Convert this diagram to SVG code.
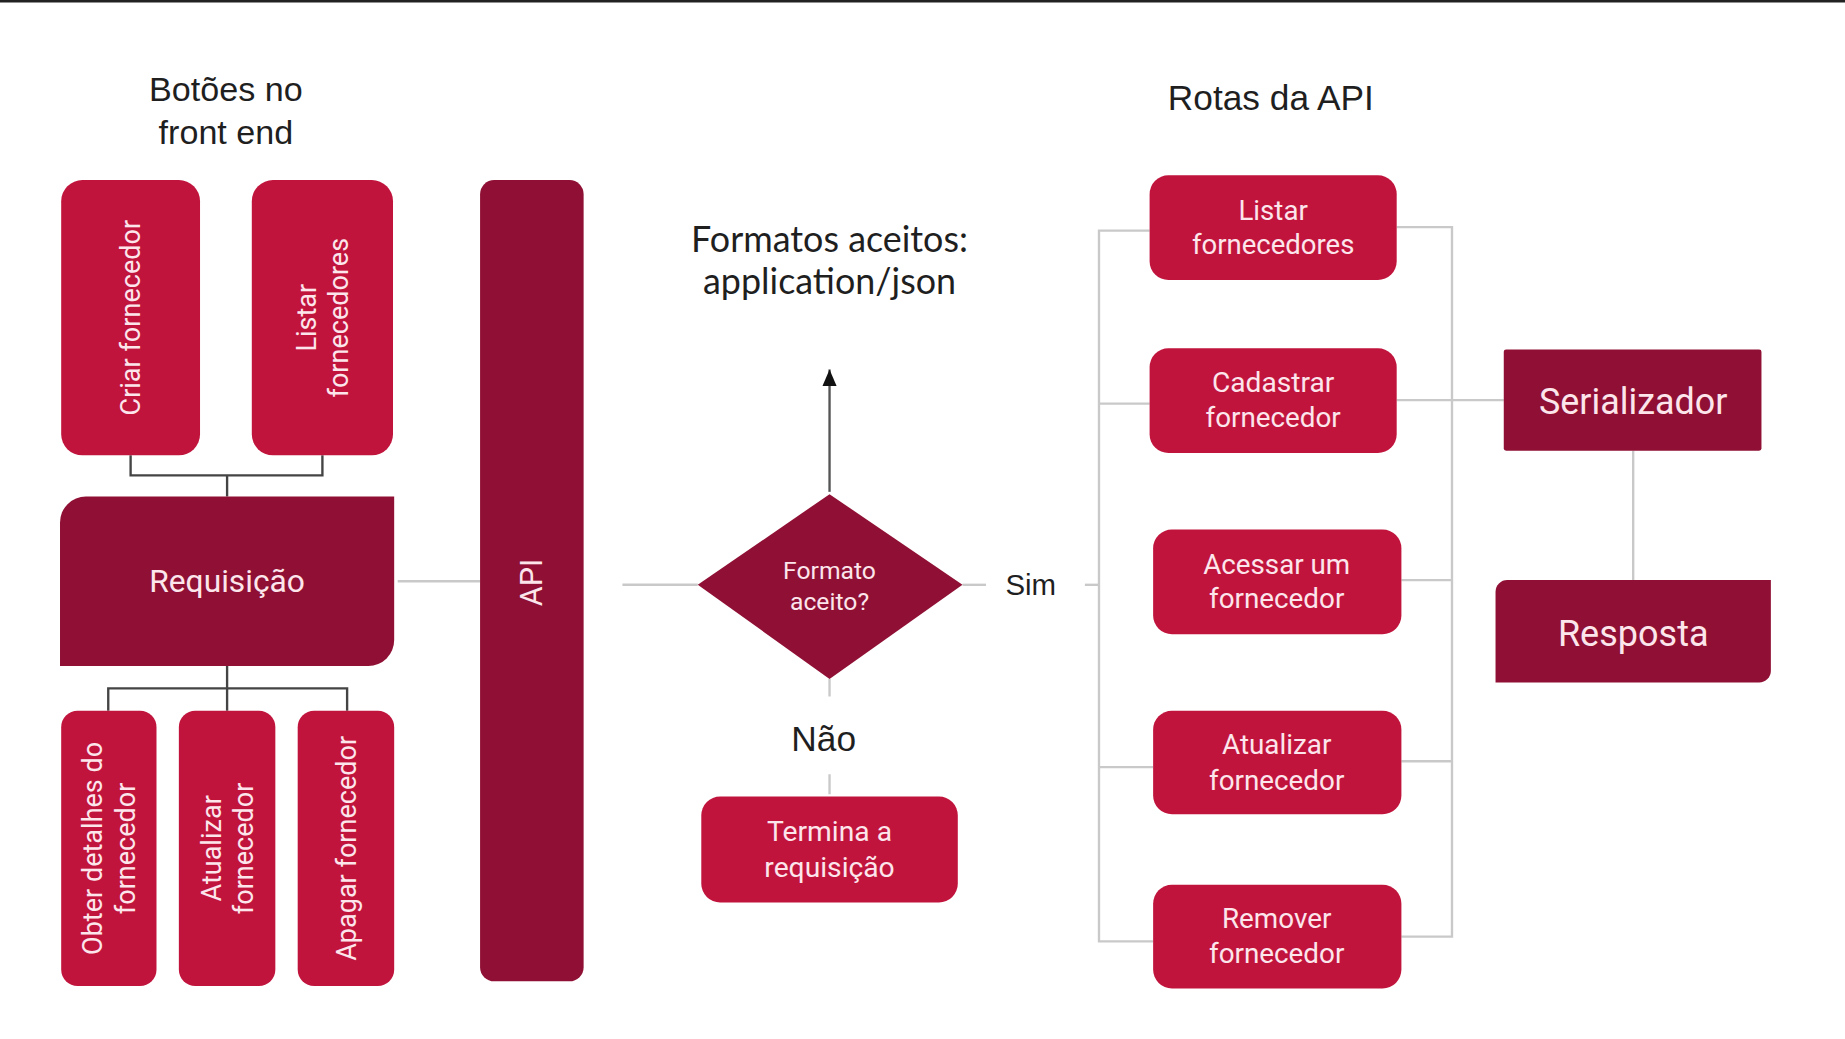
<svg xmlns="http://www.w3.org/2000/svg" width="1845" height="1039" viewBox="0 0 1845 1039">
<defs>
<style>
.light{fill:#C1143D}
.dark{fill:#8F1034}
.bt{fill:#FCE6EC;font-family:Roboto,"Liberation Sans",sans-serif;text-anchor:middle;dominant-baseline:central}
.title{fill:#1f1f1f;font-family:"Liberation Sans",Arial,sans-serif;text-anchor:middle;dominant-baseline:central}
.tree{fill:none;stroke:#444;stroke-width:2}
.soft{fill:none;stroke:#C9C9C9;stroke-width:2}
</style>
<marker id="arr" markerWidth="14" markerHeight="12" refX="14" refY="6" orient="auto" markerUnits="userSpaceOnUse" viewBox="0 0 14 12">
<path d="M0,0 L14,6 L0,12 Z" fill="#111"/>
</marker>
</defs>
<rect width="1845" height="1039" fill="#ffffff"/>
<rect x="0" y="0" width="1845" height="2.5" fill="#222"/>
<g transform="scale(1.176658)">
<g id="connectors">
<path class="tree" d="M111,387 V404 H274 V387 M193,404 V422"/>
<path class="tree" d="M193,566 V585 M92,604 V585 H295 V604 M193,585 V604"/>
<path class="soft" d="M338,494 H408"/>
<path class="soft" d="M529,497 H593"/>
<path class="soft" d="M818,497 H838"/>
<path class="soft" d="M922,497 H934"/>
<path class="soft" d="M705,577 V592 M705,658 V675"/>
<path d="M705,418 V314" fill="none" stroke="#555" stroke-width="2" marker-end="url(#arr)"/>
<path class="soft" d="M977,196 H934 V800 H980 M934,343 H977 M934,652 H980"/>
<path class="soft" d="M1187,193 H1234 V796 H1191 M1187,340 H1278 M1191,493 H1234 M1191,647 H1234"/>
<path class="soft" d="M1388,383 V493"/>
</g>
<g id="title-botoes">
<text class="title" x="192" y="76" font-size="29">Botões no</text>
<text class="title" x="192" y="112" font-size="29">front end</text>
</g>
<g id="title-rotas">
<text class="title" x="1080" y="83" font-size="30">Rotas da API</text>
</g>
<g id="title-formatos">
<text class="title" x="705" y="203" font-size="30.5" style="font-family:Lato,'Liberation Sans',sans-serif">Formatos aceitos:</text>
<text class="title" x="705" y="238" font-size="30.5" style="font-family:Lato,'Liberation Sans',sans-serif">application/json</text>
</g>
<g id="criar-fornecedor">
<rect class="light" x="52" y="153" width="118" height="234" rx="18"/>
<text class="bt" font-size="23" transform="translate(111,270) rotate(-90)">Criar fornecedor</text>
</g>
<g id="listar-fornecedores-btn">
<rect class="light" x="214" y="153" width="120" height="234" rx="18"/>
<text class="bt" font-size="23" transform="translate(261,270) rotate(-90)">Listar</text>
<text class="bt" font-size="23" transform="translate(288,270) rotate(-90)">fornecedores</text>
</g>
<g id="requisicao">
<path class="dark" d="M51,444 A22,22 0 0 1 73,422 H335 V544 A22,22 0 0 1 313,566 H51 Z"/>
<text class="bt" x="193" y="494" font-size="27">Requisição</text>
</g>
<g id="obter-detalhes">
<rect class="light" x="52" y="604" width="81" height="234" rx="14"/>
<text class="bt" font-size="23" transform="translate(79,721) rotate(-90)">Obter detalhes do</text>
<text class="bt" font-size="23" transform="translate(107,721) rotate(-90)">fornecedor</text>
</g>
<g id="atualizar-btn">
<rect class="light" x="152" y="604" width="82" height="234" rx="14"/>
<text class="bt" font-size="23" transform="translate(180,721) rotate(-90)">Atualizar</text>
<text class="bt" font-size="23" transform="translate(207,721) rotate(-90)">fornecedor</text>
</g>
<g id="apagar-btn">
<rect class="light" x="253" y="604" width="82" height="234" rx="14"/>
<text class="bt" font-size="23" transform="translate(295,721) rotate(-90)">Apagar fornecedor</text>
</g>
<g id="api">
<rect class="dark" x="408" y="153" width="88" height="681" rx="12"/>
<text class="bt" font-size="26" transform="translate(452,495) rotate(-90)">API</text>
</g>
<g id="formato-aceito">
<path class="dark" d="M705,420 L818,497 L705,577 L593,497 Z"/>
<text class="bt" x="705" y="485" font-size="21">Formato</text>
<text class="bt" x="705" y="511" font-size="21">aceito?</text>
</g>
<g id="sim-label">
<text class="title" x="876" y="497" font-size="25">Sim</text>
</g>
<g id="nao-label">
<text class="title" x="700" y="628" font-size="30">Não</text>
</g>
<g id="termina">
<rect class="light" x="596" y="677" width="218" height="90" rx="16"/>
<text class="bt" x="705" y="707" font-size="24">Termina a</text>
<text class="bt" x="705" y="737" font-size="24">requisição</text>
</g>
<g id="rota-listar">
<rect class="light" x="977" y="149" width="210" height="89" rx="16"/>
<text class="bt" x="1082" y="179" font-size="24" textLength="59" lengthAdjust="spacingAndGlyphs">Listar</text>
<text class="bt" x="1082" y="208" font-size="24" textLength="138" lengthAdjust="spacingAndGlyphs">fornecedores</text>
</g>
<g id="rota-cadastrar">
<rect class="light" x="977" y="296" width="210" height="89" rx="16"/>
<text class="bt" x="1082" y="325" font-size="24" textLength="104" lengthAdjust="spacingAndGlyphs">Cadastrar</text>
<text class="bt" x="1082" y="355" font-size="24" textLength="115" lengthAdjust="spacingAndGlyphs">fornecedor</text>
</g>
<g id="rota-acessar">
<rect class="light" x="980" y="450" width="211" height="89" rx="16"/>
<text class="bt" x="1085" y="480" font-size="24" textLength="125" lengthAdjust="spacingAndGlyphs">Acessar um</text>
<text class="bt" x="1085" y="509" font-size="24" textLength="115" lengthAdjust="spacingAndGlyphs">fornecedor</text>
</g>
<g id="rota-atualizar">
<rect class="light" x="980" y="604" width="211" height="88" rx="16"/>
<text class="bt" x="1085" y="633" font-size="24" textLength="93" lengthAdjust="spacingAndGlyphs">Atualizar</text>
<text class="bt" x="1085" y="663" font-size="24" textLength="115" lengthAdjust="spacingAndGlyphs">fornecedor</text>
</g>
<g id="rota-remover">
<rect class="light" x="980" y="752" width="211" height="88" rx="16"/>
<text class="bt" x="1085" y="781" font-size="24" textLength="93" lengthAdjust="spacingAndGlyphs">Remover</text>
<text class="bt" x="1085" y="810" font-size="24" textLength="115" lengthAdjust="spacingAndGlyphs">fornecedor</text>
</g>
<g id="serializador">
<rect class="dark" x="1278" y="297" width="219" height="86" rx="2"/>
<text class="bt" x="1388" y="341" font-size="31" textLength="160" lengthAdjust="spacingAndGlyphs">Serializador</text>
</g>
<g id="resposta">
<path class="dark" d="M1271,503 A10,10 0 0 1 1281,493 H1505 V570 A10,10 0 0 1 1495,580 H1271 Z"/>
<text class="bt" x="1388" y="538" font-size="31" textLength="128" lengthAdjust="spacingAndGlyphs">Resposta</text>
</g>
</g>
</svg>
